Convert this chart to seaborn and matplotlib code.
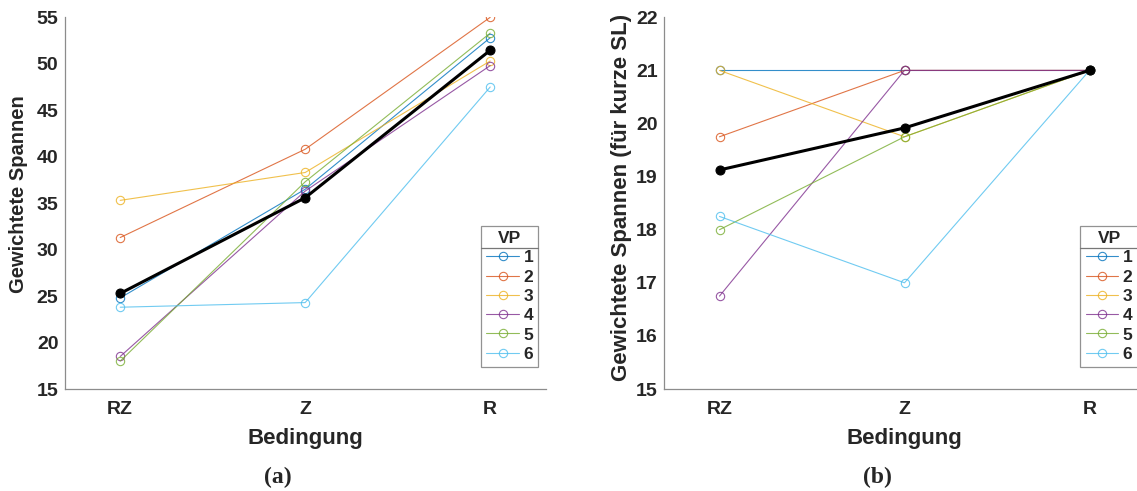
import numpy as np
import pandas as pd
import matplotlib
matplotlib.use("Agg")
import matplotlib.pyplot as plt
import seaborn as sns
from matplotlib.lines import Line2D

conditions = ["RZ", "Z", "R"]
participants = ["1", "2", "3", "4", "5", "6"]

# Panel (a): Gewichtete Spannen
a_vp1 = [24.8, 36.5, 52.8]
a_vp2 = [31.3, 40.8, 55.0]
a_vp3 = [35.3, 38.3, 50.3]
a_vp4 = [18.5, 36.3, 49.8]
a_vp5 = [18.0, 37.3, 53.3]
a_vp6 = [23.8, 24.3, 47.5]

# Panel (b): Gewichtete Spannen (für kurze SL)
b_vp1 = [21.0, 21.0, 21.0]
b_vp2 = [19.75, 21.0, 21.0]
b_vp3 = [21.0, 19.75, 21.0]
b_vp4 = [16.75, 21.0, 21.0]
b_vp5 = [18.0, 19.75, 21.0]
b_vp6 = [18.25, 17.0, 21.0]

a_series = [a_vp1, a_vp2, a_vp3, a_vp4, a_vp5, a_vp6]
b_series = [b_vp1, b_vp2, b_vp3, b_vp4, b_vp5, b_vp6]

colors = ["#0072BD", "#D95319", "#EDB120", "#7E2F8E", "#77AC30", "#4DBEEE"]

sns.set_theme(style="white")
plt.rcParams["font.family"] = ["Liberation Sans", "DejaVu Sans"]

fig = plt.figure(figsize=(11.37, 4.91), dpi=100)
W, H = 1137.0, 491.0
ax_w = 481 / W
ax_h = 371.7 / H
bottom = (H - 389) / H
axA = fig.add_axes([64.7 / W, bottom, ax_w, ax_h])
axB = fig.add_axes([664 / W, bottom, ax_w, ax_h])


def draw_panel(ax, series, yticks, ylabel, ylabel_size, ylabel_xy):
    x = np.arange(1, len(conditions) + 1)
    rows = []
    for vp, vals in zip(participants, series):
        for xi, v in zip(x, vals):
            rows.append({"VP": vp, "x": xi, "y": v})
    df = pd.DataFrame(rows)
    handles = []
    for vp, col in zip(participants, colors):
        sub = df[df["VP"] == vp]
        sns.lineplot(data=sub, x="x", y="y", ax=ax, color=col, lw=0.8,
                     marker="o", markersize=6, markerfacecolor="none",
                     markeredgecolor=col, markeredgewidth=0.8, alpha=0.8,
                     legend=False)
        handles.append(Line2D([], [], color=col, lw=0.8, marker="o", markersize=6,
                              markerfacecolor="none", markeredgecolor=col,
                              markeredgewidth=0.8, alpha=0.8, label=vp))
    mean_df = df.groupby("x", as_index=False)["y"].mean()
    sns.lineplot(data=mean_df, x="x", y="y", ax=ax, color="black", lw=2.2,
                 marker="o", markersize=6.5, markerfacecolor="black",
                 markeredgecolor="black", legend=False)

    ax.set_xlim(0.7, 3.3)
    ax.set_ylim(yticks[0], yticks[-1])
    ax.set_xticks(x)
    ax.set_xticklabels(conditions)
    ax.set_yticks(yticks)
    for sp in ["top", "right"]:
        ax.spines[sp].set_visible(False)
    for sp in ["left", "bottom"]:
        ax.spines[sp].set_color("#8c8c8c")
        ax.spines[sp].set_linewidth(0.9)
    ax.tick_params(axis="both", direction="in", length=4, width=0.6,
                   color="#8c8c8c", labelsize=14, labelcolor="#262626")
    ax.tick_params(axis="x", pad=9)
    ax.tick_params(axis="y", pad=4.5)
    for lab in ax.get_xticklabels() + ax.get_yticklabels():
        lab.set_fontweight("bold")
    ax.set_xlabel("Bedingung", fontsize=16, fontweight="bold", color="#262626", labelpad=7)
    ax.set_ylabel(ylabel, fontsize=ylabel_size, fontweight="bold", color="#262626")
    ax.yaxis.set_label_coords(*ylabel_xy)

    leg = ax.legend(handles=handles, title="VP", loc="lower right",
                    bbox_to_anchor=(0.985, 0.059), frameon=True, fancybox=False,
                    prop={"weight": "bold", "size": 12.5},
                    title_fontproperties={"weight": "bold", "size": 12.5},
                    handlelength=1.9, handletextpad=0.25, borderpad=0.3,
                    labelspacing=0.24, borderaxespad=0)
    leg.get_frame().set_edgecolor("#777777")
    leg.get_frame().set_linewidth(0.9)
    return leg


legA = draw_panel(axA, a_series, list(range(15, 56, 5)), "Gewichtete Spannen",
                  14.5, (-0.076, 0.525))
legB = draw_panel(axB, b_series, list(range(15, 23, 1)),
                  "Gewichtete Spannen (für kurze SL)", 16, (-0.066, 0.515))

fig.text(277.5 / W, 1 - 477 / H, "(a)", ha="center", va="center",
         fontsize=17, fontweight="bold", family=["Liberation Serif", "DejaVu Serif"])
fig.text(877 / W, 1 - 477 / H, "(b)", ha="center", va="center",
         fontsize=17, fontweight="bold", family=["Liberation Serif", "DejaVu Serif"])

# separator line under legend titles
fig.canvas.draw()
renderer = fig.canvas.get_renderer()
inv = fig.transFigure.inverted()
for leg in [legA, legB]:
    fb = leg.get_frame().get_window_extent(renderer)
    tb = leg.get_title().get_window_extent(renderer)
    ysep = tb.y0 - 2
    (x0, y0) = inv.transform((fb.x0, ysep))
    (x1, _) = inv.transform((fb.x1, ysep))
    fig.add_artist(Line2D([x0, x1], [y0, y0], color="#777777", lw=0.9,
                          transform=fig.transFigure))

fig.savefig("out.png", dpi=100)
